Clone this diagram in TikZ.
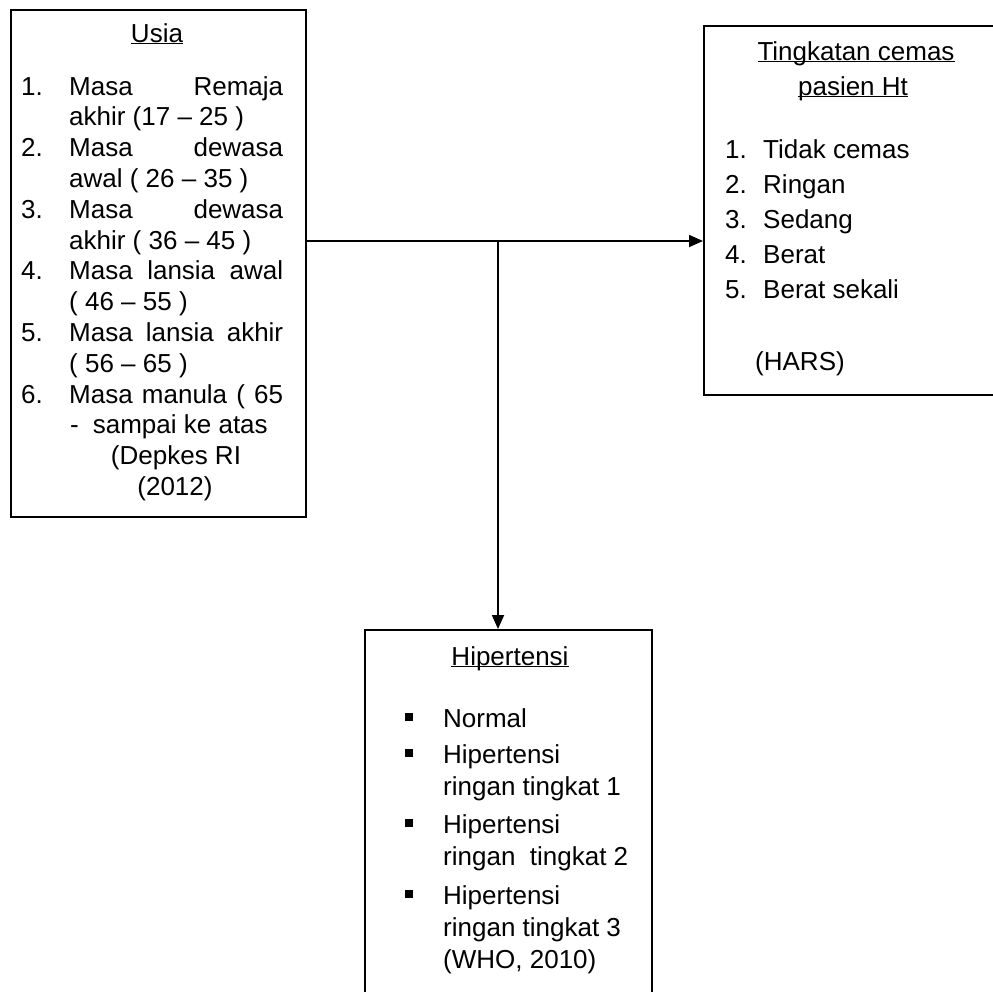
\documentclass[tikz,border=0pt]{standalone}
\usepackage{fontspec}
\setmainfont{Liberation Sans}
\usetikzlibrary{arrows.meta}
\newcommand\myul[1]{\underline{\smash{#1}}}
\begin{document}
\begin{tikzpicture}[x=1pt,y=-1pt,
  txt/.style={anchor=base west,inner sep=0pt,font=\fontsize{26}{30}\selectfont},
  ctxt/.style={anchor=base,inner sep=0pt,font=\fontsize{26}{30}\selectfont},
  box/.style={draw,line width=1.5pt,inner sep=0pt,anchor=north west},
  arr/.style={line width=1.8pt,-{Triangle[length=14pt,width=12pt]}},
  bul/.style={fill,inner sep=0pt,minimum size=8pt}]
\useasboundingbox (0,0) rectangle (993,991);
\clip (0,0) rectangle (993,991);
% boxes
\node[box,minimum width=295pt,minimum height=507pt] (usia) at (10,9) {};
\node[box,minimum width=330pt,minimum height=369pt] (cemas) at (703,25) {};
\node[box,minimum width=287pt,minimum height=400pt] (hip) at (364,629) {};
% connectors
\coordinate (j) at (498,241);
\draw[arr] (usia.east |- j) -- (cemas.west |- j);
\draw[arr] (j) -- (hip.north -| j);
% left box text
\node[ctxt] (u0) at (157,42) {\myul{Usia}};
\node[txt] (n1) at (21,95) {1.};
\node[txt] (l1) at (69,95) {\makebox[214pt][s]{Masa\hfill Remaja}};
\node[txt] (l2) at (69,125.8) {akhir (17 – 25 )};
\node[txt] (n2) at (21,156.6) {2.};
\node[txt] (l3) at (69,156.6) {\makebox[214pt][s]{Masa\hfill dewasa}};
\node[txt] (l4) at (69,187.4) {awal ( 26 – 35 )};
\node[txt] (n3) at (21,218.2) {3.};
\node[txt] (l5) at (69,218.2) {\makebox[214pt][s]{Masa\hfill dewasa}};
\node[txt] (l6) at (69,249) {akhir ( 36 – 45 )};
\node[txt] (n4) at (21,279.8) {4.};
\node[txt] (l7) at (69,279.8) {\makebox[214pt][s]{Masa lansia awal}};
\node[txt] (l8) at (69,310.6) {( 46 – 55 )};
\node[txt] (n5) at (21,341.4) {5.};
\node[txt] (l9) at (69,341.4) {\makebox[214pt][s]{Masa lansia akhir}};
\node[txt] (l10) at (69,372.2) {( 56 – 65 )};
\node[txt] (n6) at (21,403) {6.};
\node[txt] (l11) at (69,403) {\makebox[214pt][s]{Masa manula ( 65}};
\node[txt] (l12) at (70,433.8) {-\hspace{14pt}sampai ke atas};
\node[ctxt] (l13) at (176,464.6) {(Depkes RI};
\node[ctxt] (l14) at (175,495.4) {(2012)};
% right box text
\node[ctxt] (c0) at (856,60) {\myul{Tingkatan cemas}};
\node[ctxt] (c1) at (853,95) {\myul{pasien Ht}};
\node[txt] (m1) at (725,158) {1.};
\node[txt] (c2) at (763,158) {Tidak cemas};
\node[txt] (m2) at (725,193) {2.};
\node[txt] (c3) at (763,193) {Ringan};
\node[txt] (m3) at (725,228) {3.};
\node[txt] (c4) at (763,228) {Sedang};
\node[txt] (m4) at (725,263) {4.};
\node[txt] (c5) at (763,263) {Berat};
\node[txt] (m5) at (725,298) {5.};
\node[txt] (c6) at (763,298) {Berat sekali};
\node[txt] (c7) at (755,370) {(HARS)};
% bottom box text
\node[ctxt] (h0) at (510,665) {\myul{Hipertensi}};
\node[bul] (b1) at (409,717) {};
\node[bul] (b2) at (409,753) {};
\node[bul] (b3) at (409,823) {};
\node[bul] (b4) at (409,894) {};
\node[txt] (h1) at (443,727) {Normal};
\node[txt] (h2) at (443,763) {Hipertensi};
\node[txt] (h3) at (443,795) {ringan tingkat 1};
\node[txt] (h4) at (443,833) {Hipertensi};
\node[txt] (h5) at (443,865) {ringan\ \ tingkat 2};
\node[txt] (h6) at (443,904) {Hipertensi};
\node[txt] (h7) at (443,936) {ringan tingkat 3};
\node[txt] (h8) at (443,968) {(WHO, 2010)};
\end{tikzpicture}
\end{document}
